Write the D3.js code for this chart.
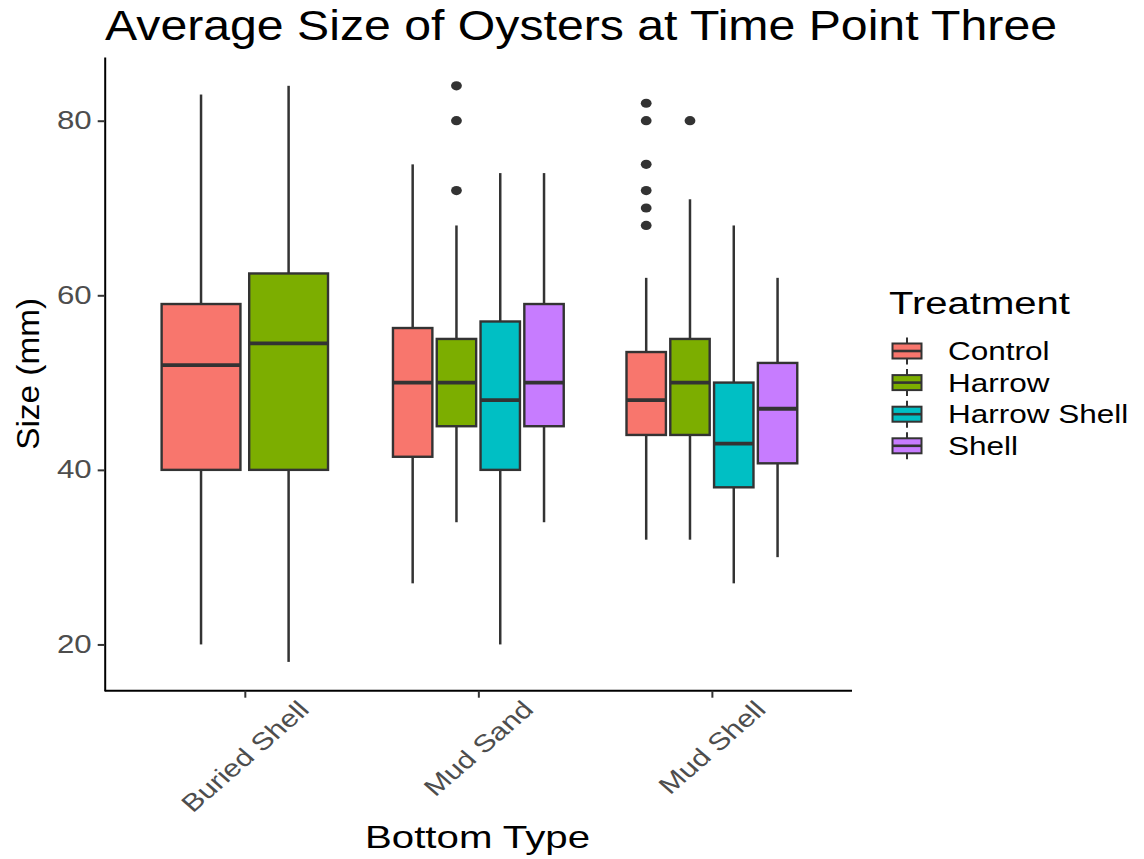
<!DOCTYPE html>
<html>
<head>
<meta charset="utf-8">
<script src="https://cdn.jsdelivr.net/npm/d3@7"></script>
<style>
  html, body { margin: 0; padding: 0; background: #ffffff; }
  svg { display: block; font-family: "Liberation Sans", Arial, Helvetica, sans-serif; }
</style>
</head>
<body>
<svg id="chart" width="1144" height="859"></svg>
<script>
// Bottom types along the x axis and treatments used for fill
const bottomTypes = ["Buried Shell", "Mud Sand", "Mud Shell"];
const treatments = ["Control", "Harrow", "Harrow Shell", "Shell"];
const treatmentColors = ["#F8766D", "#7CAE00", "#00BFC4", "#C77CFF"];
const yTicks = [20, 40, 60, 80];

// One entry per box: bottom type, treatment and five-number summary (mm)
const boxBottom    = ["Buried Shell", "Buried Shell", "Mud Sand", "Mud Sand", "Mud Sand", "Mud Sand", "Mud Shell", "Mud Shell", "Mud Shell", "Mud Shell"];
const boxTreatment = ["Control", "Harrow", "Control", "Harrow", "Harrow Shell", "Shell", "Control", "Harrow", "Harrow Shell", "Shell"];
const whiskerLow   = [20, 18, 27, 34, 20, 34, 32, 32, 27, 30];
const lowerQuart   = [40, 40, 41.5, 45, 40, 45, 44, 44, 38, 40.75];
const medianSize   = [52, 54.5, 50, 50, 48, 50, 48, 50, 43, 47];
const upperQuart   = [59, 62.5, 56.25, 55, 57, 59, 53.5, 55, 50, 52.25];
const whiskerHigh  = [83, 84, 75, 68, 74, 74, 62, 71, 68, 62];
const outlierSizes = [[], [], [], [72, 80, 84], [], [], [68, 70, 72, 75, 80, 82], [80], [], []];

const boxes = boxBottom.map((b, i) => ({
  bottom: b, treatment: boxTreatment[i],
  lo: whiskerLow[i], q1: lowerQuart[i], med: medianSize[i],
  q3: upperQuart[i], hi: whiskerHigh[i], out: outlierSizes[i]
}));

const svg = d3.select("#chart");
const panel = { left: 104.7, right: 852, top: 57, bottom: 690.7 };
const ink = "#333333";

const x = d3.scalePoint().domain(bottomTypes).range([panel.left, panel.right]).padding(0.6);
const y = d3.scaleLinear().domain([14.7, 87.3]).range([panel.bottom, panel.top]);
const color = d3.scaleOrdinal().domain(treatments).range(treatmentColors);

// Stretch a text element horizontally to the given width
function fit(sel, width) {
  sel.attr("textLength", width).attr("lengthAdjust", "spacingAndGlyphs");
}
function stretch(sel, k) {
  sel.each(function () {
    const w = this.getComputedTextLength();
    d3.select(this).attr("textLength", w * k).attr("lengthAdjust", "spacingAndGlyphs");
  });
}

// Dodged box positions: total width 0.75 of a step, 10% padding between boxes
const groupWidth = 0.75 * x.step();
const layout = boxes.map(d => {
  const members = boxes.filter(e => e.bottom === d.bottom);
  const n = members.length;
  const idx = members.indexOf(d);
  const slot = groupWidth / n;
  const cx = x(d.bottom) + (idx - (n - 1) / 2) * slot;
  return Object.assign({}, d, { cx, w: slot * 0.9 });
});

const g = svg.append("g");

// Whiskers
g.selectAll("line.whisker-up").data(layout).join("line")
  .attr("x1", d => d.cx).attr("x2", d => d.cx)
  .attr("y1", d => y(d.q3)).attr("y2", d => y(d.hi))
  .attr("stroke", ink).attr("stroke-width", 2.5);
g.selectAll("line.whisker-down").data(layout).join("line")
  .attr("x1", d => d.cx).attr("x2", d => d.cx)
  .attr("y1", d => y(d.q1)).attr("y2", d => y(d.lo))
  .attr("stroke", ink).attr("stroke-width", 2.5);

// Boxes
g.selectAll("rect.box").data(layout).join("rect")
  .attr("x", d => d.cx - d.w / 2).attr("width", d => d.w)
  .attr("y", d => y(d.q3)).attr("height", d => y(d.q1) - y(d.q3))
  .attr("fill", d => color(d.treatment))
  .attr("stroke", ink).attr("stroke-width", 2.4);

// Medians
g.selectAll("line.median").data(layout).join("line")
  .attr("x1", d => d.cx - d.w / 2).attr("x2", d => d.cx + d.w / 2)
  .attr("y1", d => y(d.med)).attr("y2", d => y(d.med))
  .attr("stroke", ink).attr("stroke-width", 3.8);

// Outliers
const outPts = layout.flatMap(d => d.out.map(v => ({ cx: d.cx, v })));
g.selectAll("ellipse.outlier").data(outPts).join("ellipse")
  .attr("cx", d => d.cx).attr("cy", d => y(d.v))
  .attr("rx", 5.4).attr("ry", 4.6).attr("fill", ink);

// Y axis
const yAxis = svg.append("g").attr("transform", `translate(${panel.left},0)`)
  .call(d3.axisLeft(y).tickValues(yTicks).tickSize(7).tickSizeOuter(0).tickPadding(6));
yAxis.select(".domain").attr("stroke", "#000").attr("stroke-width", 2);
yAxis.selectAll(".tick line").attr("stroke", ink).attr("stroke-width", 2);
yAxis.selectAll(".tick text")
  .attr("fill", "#4D4D4D").attr("font-size", 25).attr("font-family", "Liberation Sans, Arial, sans-serif")
  .call(stretch, 1.25);

// X axis
const xAxis = svg.append("g").attr("transform", `translate(0,${panel.bottom})`)
  .call(d3.axisBottom(x).tickSize(7).tickSizeOuter(0));
xAxis.select(".domain").attr("stroke", "#000").attr("stroke-width", 2)
  .attr("d", `M${panel.left},0H${panel.right}`);
xAxis.selectAll(".tick line").attr("stroke", ink).attr("stroke-width", 2);
xAxis.selectAll(".tick text").remove();

// Slanted x tick labels
svg.append("g").selectAll("text").data(bottomTypes).join("text")
  .text(d => d)
  .attr("font-size", 24).attr("fill", "#4D4D4D")
  .attr("text-anchor", "middle").attr("dy", "0.35em")
  .each(function (d) {
    const w = this.getComputedTextLength() * 1.12;
    d3.select(this).attr("textLength", w).attr("lengthAdjust", "spacingAndGlyphs");
    const half = (w + 17) * 0.7071 / 2;
    d3.select(this).attr("transform", `translate(${x(d)},${699 + half}) scale(1.15,1) rotate(-45)`);
  });

// Title
svg.append("text").text("Average Size of Oysters at Time Point Three")
  .attr("x", 105).attr("y", 40).attr("font-size", 42).attr("fill", "#000")
  .call(fit, 952);

// Axis titles
svg.append("text").text("Size (mm)")
  .attr("transform", `translate(39,${(panel.top + panel.bottom) / 2}) rotate(-90)`)
  .attr("text-anchor", "middle").attr("font-size", 31).attr("fill", "#000")
  .call(fit, 152);
svg.append("text").text("Bottom Type")
  .attr("x", 477.5).attr("y", 848).attr("text-anchor", "middle")
  .attr("font-size", 32).attr("fill", "#000")
  .call(fit, 225);

// Legend
const legend = svg.append("g");
legend.append("text").text("Treatment")
  .attr("x", 889).attr("y", 314).attr("font-size", 31).attr("fill", "#000")
  .call(fit, 181);
const rowY = i => 351 + i * 31.6;
const keys = legend.selectAll("g.key").data(treatments).join("g")
  .attr("transform", (d, i) => `translate(907,${rowY(i)})`);
keys.append("line").attr("x1", 0).attr("x2", 0).attr("y1", -13.5).attr("y2", 13.5)
  .attr("stroke", ink).attr("stroke-width", 2);
keys.append("rect").attr("x", -14.5).attr("width", 29).attr("y", -7.5).attr("height", 15)
  .attr("fill", d => color(d)).attr("stroke", ink).attr("stroke-width", 2);
keys.append("line").attr("x1", -14.5).attr("x2", 14.5).attr("y1", 0).attr("y2", 0)
  .attr("stroke", ink).attr("stroke-width", 2.6);
keys.append("text").text(d => d)
  .attr("x", 41).attr("y", 0).attr("dy", "0.36em")
  .attr("font-size", 25).attr("fill", "#000")
  .call(stretch, 1.26);
</script>
</body>
</html>
